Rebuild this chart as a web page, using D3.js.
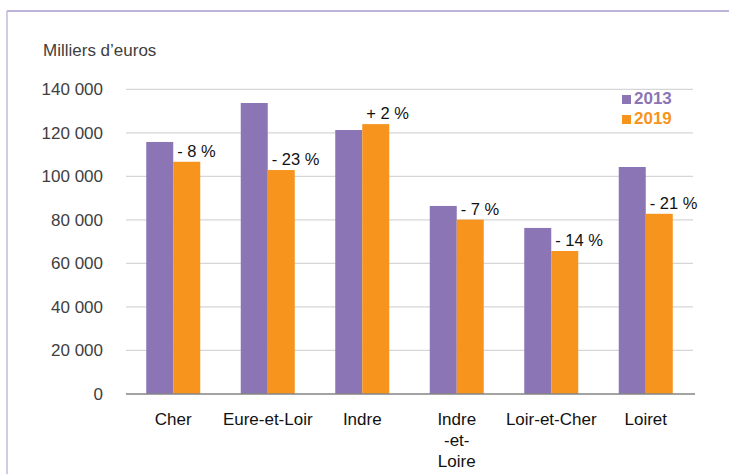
<!DOCTYPE html>
<html>
<head>
<meta charset="utf-8">
<script src="https://cdn.jsdelivr.net/npm/d3@7"></script>
<style>
  body { margin: 0; background: #fff; }
  svg { display: block; font-family: "Liberation Sans", Arial, sans-serif; }
</style>
</head>
<body>
<svg id="chart" width="729" height="474"></svg>
<script>
// departements
var categories = ["Cher", "Eure-et-Loir", "Indre", "Indre-et-Loire", "Loir-et-Cher", "Loiret"];
var categoryLabels = ["Cher", "Eure-et-Loir", "Indre", "Indre\n-et-\nLoire", "Loir-et-Cher", "Loiret"];
var years = ["2013", "2019"];
// milliers d'euros
var values2013 = [115800, 133700, 121300, 86400, 76300, 104300];
var values2019 = [106700, 102900, 124000, 80100, 65700, 82800];
var changeLabels = ["- 8 %", "- 23 %", "+ 2 %", "- 7 %", "- 14 %", "- 21 %"];
var yTicks = [0, 20000, 40000, 60000, 80000, 100000, 120000, 140000];

var colors = { "2013": "#8b75b5", "2019": "#f7941d" };

var svg = d3.select("#chart");

// frame around the chart
svg.append("line").attr("x1", 7).attr("x2", 729).attr("y1", 11).attr("y2", 11)
    .attr("stroke", "#a99bcd").attr("stroke-width", 1.5);
svg.append("line").attr("x1", 7).attr("x2", 7).attr("y1", 11).attr("y2", 474)
    .attr("stroke", "#c3b9de").attr("stroke-width", 1.5);

var x0 = d3.scaleBand()
    .domain(categories)
    .range([126, 693])
    .paddingInner(0.4286)
    .paddingOuter(0.2143);

var x1 = d3.scaleBand()
    .domain(years)
    .range([0, x0.bandwidth()]);

var y = d3.scaleLinear()
    .domain([0, 140000])
    .range([394, 89.3]);

var fr = d3.formatLocale({ decimal: ",", thousands: " ", grouping: [3], currency: ["", " €"] });

// gridlines
svg.append("g")
    .selectAll("line")
    .data(yTicks.filter(function (d) { return d > 0; }))
    .enter()
    .append("line")
    .attr("x1", 126).attr("x2", 693)
    .attr("y1", function (d) { return y(d); })
    .attr("y2", function (d) { return y(d); })
    .attr("stroke", "#d6d6d6")
    .attr("stroke-width", 1.3);

// y axis labels
var yAxis = svg.append("g")
    .attr("transform", "translate(126,0)")
    .call(d3.axisLeft(y).tickValues(yTicks).tickSize(0).tickPadding(23).tickFormat(fr.format(",")));
yAxis.select(".domain").remove();
yAxis.selectAll("text")
    .attr("font-size", 17)
    .attr("fill", "#404040")
    .attr("font-family", "Liberation Sans, Arial, sans-serif");

// bars
var rows = categories.map(function (c, i) {
    return { cat: c, i: i, vals: [{ year: "2013", v: values2013[i] }, { year: "2019", v: values2019[i] }] };
});

var groups = svg.append("g")
    .selectAll("g")
    .data(rows)
    .enter()
    .append("g")
    .attr("transform", function (d) { return "translate(" + x0(d.cat) + ",0)"; });

groups.selectAll("rect")
    .data(function (d) { return d.vals; })
    .enter()
    .append("rect")
    .attr("x", function (d) { return x1(d.year); })
    .attr("y", function (d) { return y(d.v); })
    .attr("width", x1.bandwidth())
    .attr("height", function (d) { return y(0) - y(d.v); })
    .attr("fill", function (d) { return colors[d.year]; });

// change labels above the 2019 bars
groups.append("text")
    .attr("x", function (d) { return x1("2019") + 4; })
    .attr("y", function (d) { return y(values2019[d.i]) - 5; })
    .attr("font-size", 16.5)
    .attr("fill", "#111")
    .text(function (d) { return changeLabels[d.i]; });

// zero line
svg.append("line")
    .attr("x1", 126).attr("x2", 695)
    .attr("y1", y(0)).attr("y2", y(0))
    .attr("stroke", "#858585").attr("stroke-width", 1.5);

// x axis labels
var xAxis = svg.append("g")
    .attr("transform", "translate(0," + y(0) + ")")
    .call(d3.axisBottom(x0).tickSize(0).tickFormat(""));
xAxis.select(".domain").remove();
xAxis.selectAll(".tick").each(function (d, i) {
    var lines = categoryLabels[categories.indexOf(d)].split("\n");
    var t = d3.select(this).append("text")
        .attr("text-anchor", "middle")
        .attr("font-size", 17)
        .attr("fill", "#111")
        .attr("font-family", "Liberation Sans, Arial, sans-serif");
    lines.forEach(function (l, k) {
        t.append("tspan").attr("x", 0).attr("y", 31 + k * 21).text(l);
    });
});

// unit title
svg.append("text")
    .attr("x", 43).attr("y", 56)
    .attr("font-size", 17)
    .attr("fill", "#404040")
    .text("Milliers d\u2019euros");

// legend
var legend = svg.append("g")
    .selectAll("g")
    .data(years)
    .enter()
    .append("g")
    .attr("transform", function (d, i) { return "translate(622," + (95 + i * 20) + ")"; });
legend.append("rect")
    .attr("width", 9).attr("height", 9)
    .attr("fill", function (d) { return colors[d]; });
legend.append("text")
    .attr("x", 12).attr("y", 9)
    .attr("font-size", 17)
    .attr("font-weight", "bold")
    .attr("fill", function (d) { return colors[d]; })
    .text(function (d) { return d; });
</script>
</body>
</html>
